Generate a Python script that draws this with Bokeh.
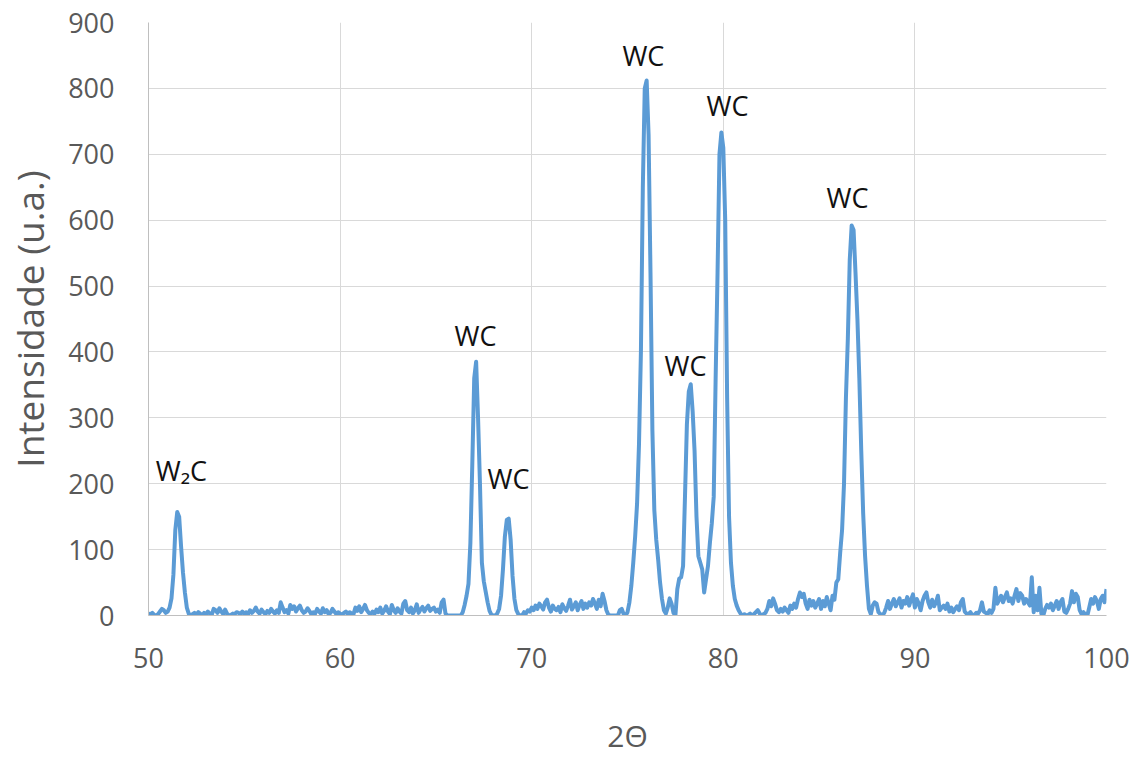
import numpy as np
from bokeh.plotting import figure
from bokeh.models import Range1d, FixedTicker, ColumnDataSource
from bokeh.core.properties import value
from bokeh.embed import file_html
from bokeh.resources import INLINE

# ---- data ----
two_theta_start = 50.0
two_theta_step = 0.1

# intensity per degree block (x.0 ... x.9)
i50 = [3, 2, 4, 1, 0, 2, 6, 10, 8, 4]
i51 = [6, 12, 26, 62, 130, 157, 150, 105, 65, 35]
i52 = [12, 3, 0, 2, 4, 1, 5, 3, 0, 4]
i53 = [2, 6, 3, 1, 10, 8, 4, 11, 6, 2]
i54 = [9, 3, 0, 1, 3, 2, 5, 4, 2, 6]
i55 = [3, 5, 2, 8, 4, 7, 12, 6, 3, 9]
i56 = [5, 2, 7, 4, 10, 6, 3, 8, 4, 20]
i57 = [12, 5, 8, 3, 16, 10, 14, 6, 11, 15]
i58 = [8, 4, 6, 11, 7, 2, 5, 3, 10, 6]
i59 = [3, 11, 5, 8, 2, 4, 10, 6, 2, 5]
i60 = [3, 1, 4, 6, 2, 5, 3, 2, 12, 7]
i61 = [14, 5, 10, 16, 8, 4, 2, 6, 3, 9]
i62 = [5, 12, 3, 7, 14, 6, 2, 16, 8, 4]
i63 = [11, 6, 3, 18, 22, 8, 5, 12, 3, 8]
i64 = [17, 4, 9, 13, 6, 11, 15, 7, 10, 12]
i65 = [6, 9, 4, 20, 24, 3, 0, 0, 0, 0]
i66 = [0, 0, 0, 0, 5, 16, 30, 48, 110, 230]
i67 = [360, 385, 300, 200, 80, 52, 36, 20, 7, 1]
i68 = [0, 0, 3, 10, 30, 70, 120, 145, 147, 115]
i69 = [60, 25, 8, 2, 0, 0, 5, 3, 8, 6]
i70 = [12, 8, 15, 10, 18, 14, 9, 20, 24, 12]
i71 = [6, 15, 10, 8, 13, 5, 17, 11, 7, 15]
i72 = [24, 9, 14, 20, 8, 16, 22, 10, 18, 12]
i73 = [20, 15, 25, 18, 10, 24, 14, 33, 22, 8]
i74 = [1, 0, 0, 0, 0, 0, 8, 10, 2, 0]
i75 = [5, 20, 45, 80, 120, 170, 260, 400, 650, 800]
i76 = [812, 730, 520, 280, 160, 115, 85, 50, 25, 8]
i77 = [3, 12, 26, 18, 4, 0, 40, 56, 58, 75]
i78 = [180, 290, 340, 351, 310, 250, 150, 90, 80, 70]
i79 = [35, 55, 75, 110, 140, 180, 360, 520, 700, 733]
i80 = [710, 600, 330, 150, 80, 45, 25, 15, 8, 3]
i81 = [0, 2, 0, 1, 3, 0, 2, 5, 8, 3]
i82 = [0, 2, 4, 10, 22, 14, 26, 18, 8, 5]
i83 = [10, 6, 12, 8, 4, 15, 10, 18, 12, 25]
i84 = [35, 28, 33, 18, 10, 24, 15, 22, 12, 18]
i85 = [25, 10, 22, 14, 28, 18, 8, 30, 24, 50]
i86 = [55, 95, 130, 200, 330, 420, 540, 592, 585, 520]
i87 = [450, 360, 250, 155, 90, 45, 10, 2, 15, 20]
i88 = [18, 5, 2, 0, 4, 12, 22, 10, 18, 25]
i89 = [14, 20, 26, 12, 22, 18, 28, 15, 24, 32]
i90 = [12, 25, 18, 8, 22, 30, 35, 20, 12, 24]
i91 = [14, 20, 30, 8, 12, 15, 10, 18, 6, 12]
i92 = [5, 10, 14, 8, 20, 25, 6, 3, 2, 5]
i93 = [0, 1, 4, 3, 8, 20, 6, 4, 2, 8]
i94 = [4, 10, 42, 18, 24, 30, 20, 28, 35, 22]
i95 = [26, 18, 30, 40, 22, 34, 30, 18, 25, 20]
i96 = [15, 58, 5, 30, 8, 42, 3, 0, 10, 16]
i97 = [12, 18, 8, 15, 22, 10, 20, 25, 6, 4]
i98 = [10, 18, 37, 20, 33, 28, 8, 2, 5, 1]
i99 = [0, 12, 25, 18, 28, 22, 10, 25, 30, 20]
i100 = [40]

intensity = (i50 + i51 + i52 + i53 + i54 + i55 + i56 + i57 + i58 + i59 +
             i60 + i61 + i62 + i63 + i64 + i65 + i66 + i67 + i68 + i69 +
             i70 + i71 + i72 + i73 + i74 + i75 + i76 + i77 + i78 + i79 +
             i80 + i81 + i82 + i83 + i84 + i85 + i86 + i87 + i88 + i89 +
             i90 + i91 + i92 + i93 + i94 + i95 + i96 + i97 + i98 + i99 + i100)
two_theta = list(np.round(two_theta_start + two_theta_step * np.arange(len(intensity)), 2))

peak_label_x = [51.72, 67.07, 68.79, 75.83, 78.03, 80.22, 86.48]
peak_label_y = [220, 425, 208, 850, 379, 774, 634]
peak_label_text = ["W\u2082C", "WC", "WC", "WC", "WC", "WC", "WC"]

x_ticks = [50, 60, 70, 80, 90, 100]
y_ticks = [0, 100, 200, 300, 400, 500, 600, 700, 800, 900]
x_title = "2\u0398"
y_title = "Intensidade (u.a.)"

# ---- figure ----
W, H = 1145, 758
p = figure(width=W, height=H, output_backend="svg", toolbar_location=None,
           x_range=Range1d(50, 100), y_range=Range1d(0, 900),
           min_border_left=148, min_border_right=39, min_border_top=22,
           min_border_bottom=143)
p.outline_line_color = None
p.background_fill_color = "white"
p.border_fill_color = "white"

p.line(two_theta, intensity, line_color="#5b9bd5", line_width=4, line_join="round")

src = ColumnDataSource(dict(x=peak_label_x, y=peak_label_y, t=peak_label_text))
p.text(x="x", y="y", text="t", source=src, text_align="center", text_baseline="middle",
       text_font=value("Open Sans"), text_font_size="27px", text_color="#111111")

for ax in (p.xaxis[0], p.yaxis[0]):
    ax.major_tick_line_color = None
    ax.minor_tick_line_color = None
    ax.major_tick_out = 0
    ax.major_tick_in = 0
    ax.axis_line_color = "#bfbfbf"
    ax.axis_line_width = 1
    ax.major_label_text_font = "Open Sans"
    ax.major_label_text_font_size = "27px"
    ax.major_label_text_color = "#595959"
    ax.axis_label_text_font = "Open Sans"
    ax.axis_label_text_font_style = "normal"
    ax.axis_label_text_color = "#595959"

p.xaxis.ticker = FixedTicker(ticks=x_ticks)
p.yaxis.ticker = FixedTicker(ticks=y_ticks)
p.xaxis.major_label_standoff = 32
p.yaxis.major_label_standoff = 34
p.yaxis.axis_label = y_title
p.yaxis.axis_label_text_font_size = "37px"
p.yaxis.axis_label_standoff = 10
p.xaxis.axis_label = x_title
p.xaxis.axis_label_text_font_size = "30px"
p.xaxis.axis_label_standoff = 44

p.xgrid.ticker = FixedTicker(ticks=x_ticks)
p.ygrid.ticker = FixedTicker(ticks=y_ticks)
p.xgrid.grid_line_color = "#d9d9d9"
p.ygrid.grid_line_color = "#d9d9d9"
p.xgrid.grid_line_width = 1
p.ygrid.grid_line_width = 1

open("out.html", "w").write(file_html(p, INLINE))
